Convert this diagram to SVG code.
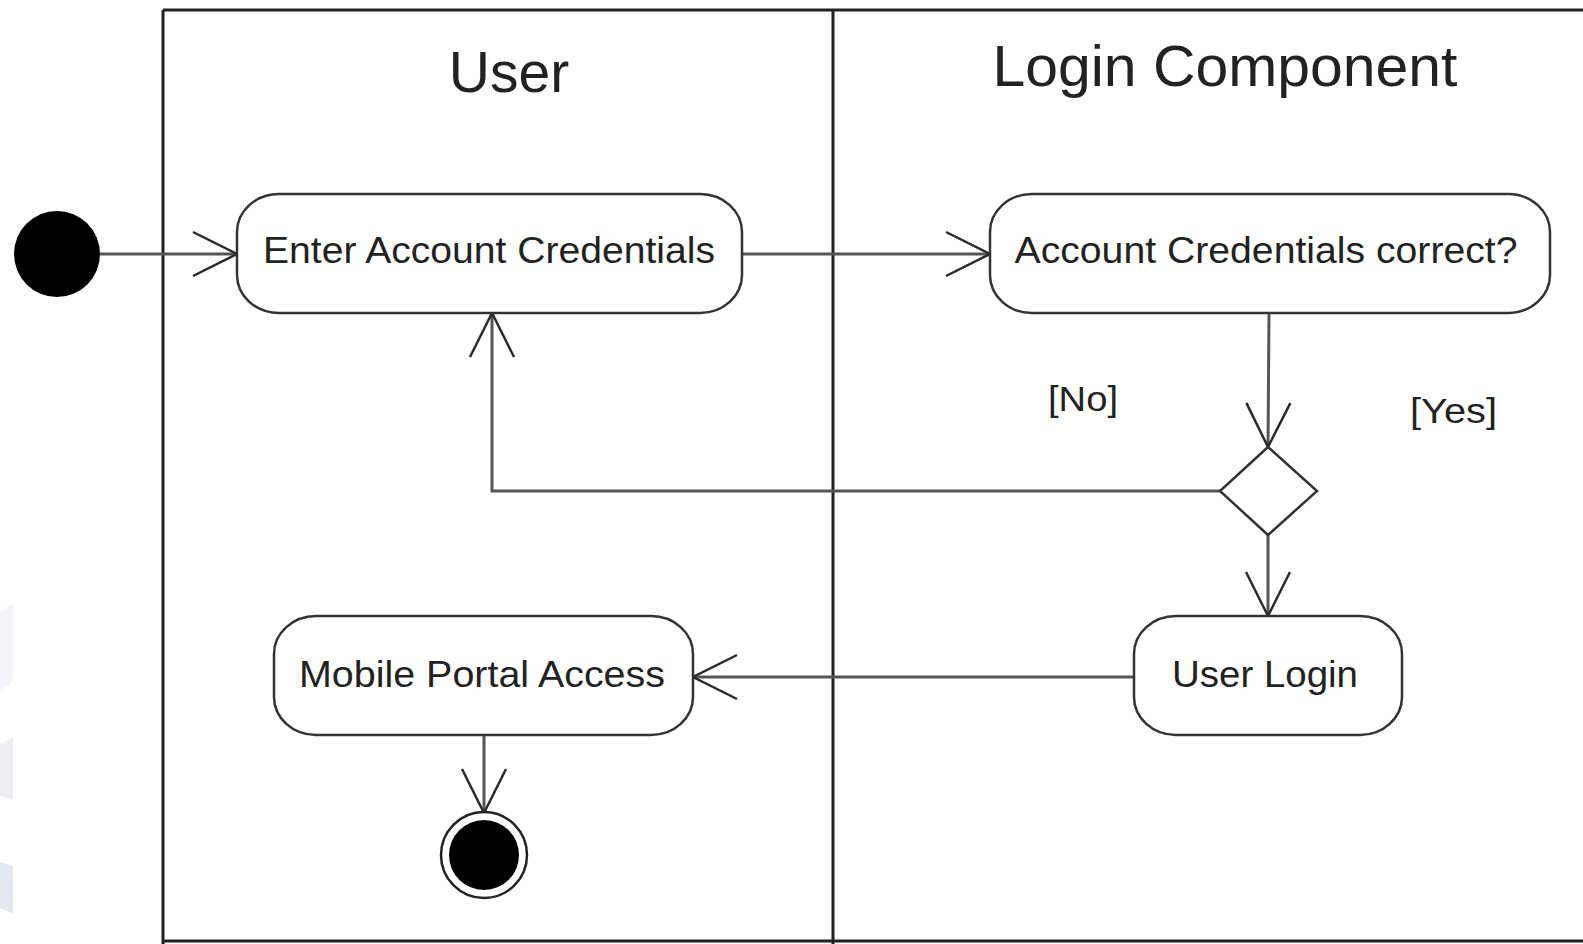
<svg xmlns="http://www.w3.org/2000/svg" width="1583" height="944" viewBox="0 0 1583 944">
<style>
.lane{stroke:#222;stroke-width:3;fill:none}
.node{fill:#fff;stroke:#333;stroke-width:2.5}
.lbl{font-family:"Liberation Sans",Arial,sans-serif;font-size:36px;fill:#222;text-anchor:middle}
.title{font-family:"Liberation Sans",Arial,sans-serif;font-size:57px;fill:#222;text-anchor:middle}
.edge{stroke:#555;stroke-width:3;fill:none}
.guard{font-family:"Liberation Sans",Arial,sans-serif;font-size:35px;fill:#222}
</style>
<defs>
<marker id="open" markerUnits="userSpaceOnUse" viewBox="0 0 50 48" markerWidth="50" markerHeight="48" refX="46" refY="24" orient="auto" overflow="visible">
<path d="M2,2 L46,24 L2,46" fill="none" stroke="#2a2a2a" stroke-width="2.5"/>
</marker>
</defs>
<rect width="1583" height="944" fill="#fff"/>
<g id="watermark" fill="#e3e6ee" opacity="0.8">
<polygon points="0,612 13,604 13,682 0,690" fill="#f1f2f6"/>
<polygon points="0,744 13,738 13,800 0,796" fill="#e8eaf0"/>
<polygon points="0,862 13,866 13,914 0,908" fill="#dfe2ea"/>
</g>
<g id="swimlanes">
<line class="lane" x1="163" y1="10" x2="1583" y2="10"/>
<line class="lane" x1="163" y1="10" x2="163" y2="944"/>
<line class="lane" x1="833" y1="10" x2="833" y2="944"/>
<line class="lane" x1="163" y1="941" x2="1583" y2="941"/>
<text class="title" x="509" y="92">User</text>
<text class="title" x="1225" y="86" textLength="465" lengthAdjust="spacingAndGlyphs">Login Component</text>
</g>
<g id="connectors">
<line class="edge" x1="100" y1="254" x2="237" y2="254" marker-end="url(#open)"/>
<line class="edge" x1="742" y1="254" x2="990" y2="254" marker-end="url(#open)"/>
<line class="edge" x1="1269" y1="313" x2="1268" y2="447" marker-end="url(#open)"/>
<polyline class="edge" points="1220,491 492,491 492,313" marker-end="url(#open)"/>
<line class="edge" x1="1268" y1="535" x2="1268" y2="616" marker-end="url(#open)"/>
<line class="edge" x1="1134" y1="677" x2="693" y2="677" marker-end="url(#open)"/>
<line class="edge" x1="484" y1="735" x2="484" y2="813" marker-end="url(#open)"/>
<text class="guard" x="1048" y="411" textLength="70" lengthAdjust="spacingAndGlyphs">[No]</text>
<text class="guard" x="1410" y="423" textLength="87" lengthAdjust="spacingAndGlyphs">[Yes]</text>
</g>
<g id="start">
<circle cx="57" cy="254" r="43" fill="#000"/>
</g>
<g id="enter-credentials">
<rect class="node" x="237" y="194" width="505" height="119" rx="42" ry="38"/>
<text class="lbl" x="489" y="263" textLength="452" lengthAdjust="spacingAndGlyphs">Enter Account Credentials</text>
</g>
<g id="credentials-correct">
<rect class="node" x="990" y="194" width="560" height="119" rx="42" ry="38"/>
<text class="lbl" x="1266" y="263" textLength="503" lengthAdjust="spacingAndGlyphs">Account Credentials correct?</text>
</g>
<g id="decision">
<polygon class="node" points="1268,447 1317,491 1268,535 1220,491"/>
</g>
<g id="user-login">
<rect class="node" x="1134" y="616" width="268" height="119" rx="42" ry="38"/>
<text class="lbl" x="1265" y="687" textLength="186" lengthAdjust="spacingAndGlyphs">User Login</text>
</g>
<g id="mobile-portal">
<rect class="node" x="274" y="616" width="419" height="119" rx="42" ry="38"/>
<text class="lbl" x="482" y="687" textLength="366" lengthAdjust="spacingAndGlyphs">Mobile Portal Access</text>
</g>
<g id="end">
<circle cx="484" cy="855" r="43" fill="#fff" stroke="#222" stroke-width="2.5"/>
<circle cx="484" cy="855" r="35" fill="#000"/>
</g>
</svg>
